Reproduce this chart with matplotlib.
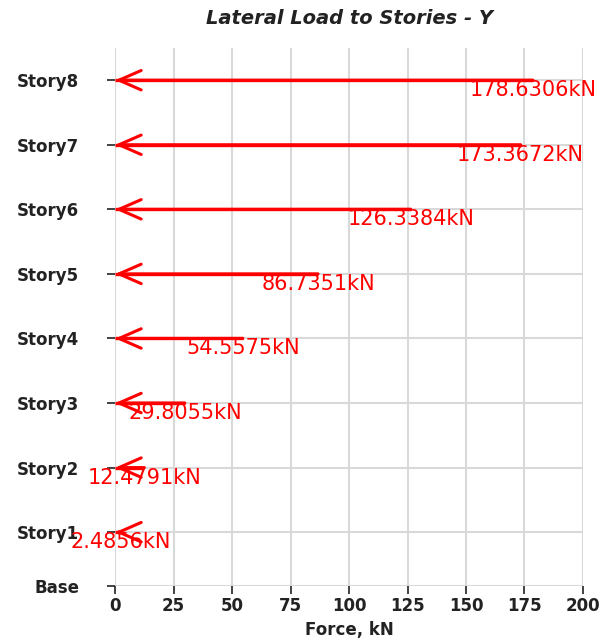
import matplotlib
matplotlib.use("Agg")
import matplotlib.pyplot as plt

# Storey levels (m) and lateral forces (kN)
stories = ["Base", "Story1", "Story2", "Story3", "Story4",
           "Story5", "Story6", "Story7", "Story8"]
elevations = [0.0, 2.5, 5.5, 8.5, 11.5, 14.5, 17.5, 20.5, 23.5]
forces = [None, 2.4856, 12.4791, 29.8055, 54.5575,
          86.7351, 126.3384, 173.3672, 178.6306]
xticks = [0, 25, 50, 75, 100, 125, 150, 175, 200]

plt.rcParams['font.family'] = ['DejaVu Sans']

fig = plt.figure(figsize=(6.06, 6.39), dpi=100)
ax = fig.add_axes([0.19, 0.083, 0.772, 0.842])

ax.set_xlim(0, 200)
ax.set_ylim(0, 25)
ax.set_xticks(xticks)
ax.set_yticks(elevations)
ax.set_yticklabels(stories)

for s in ax.spines.values():
    s.set_visible(False)
ax.grid(True, color='#d9d9d9', linewidth=1.5)
ax.set_axisbelow(True)
ax.tick_params(axis='both', length=6, width=1.2, color='#222222',
               labelsize=12, labelcolor='#222222')
ax.tick_params(axis='y', pad=20)
ax.tick_params(axis='x', pad=2)
for lab in ax.get_xticklabels() + ax.get_yticklabels():
    lab.set_fontweight('bold')

# Load arrows pointing to the left, value label under each one
for name, z, f in zip(stories, elevations, forces):
    if f is None:
        continue
    ax.plot([0, f], [z, z], color='red', linewidth=2.4,
            solid_capstyle='butt', clip_on=False, zorder=3)
    ax.annotate('', xy=(0, z), xytext=(f, z),
                arrowprops=dict(arrowstyle='->,head_length=1.6,head_width=0.7',
                                color='red', lw=2.2, shrinkA=0, shrinkB=0),
                annotation_clip=False, zorder=4)
    ax.annotate('%.4fkN' % f, xy=(f, z), xytext=(0, 0),
                textcoords='offset points', ha='center', va='top',
                color='red', fontsize=15,
                annotation_clip=False, zorder=5)

ax.set_title('Lateral Load to Stories - Y', fontsize=14, fontstyle='italic',
             fontweight='bold', color='#222222', pad=17)
ax.set_xlabel('Force, kN', fontsize=12, fontweight='bold', color='#222222',
              labelpad=4)

fig.savefig('out.png', dpi=100)
